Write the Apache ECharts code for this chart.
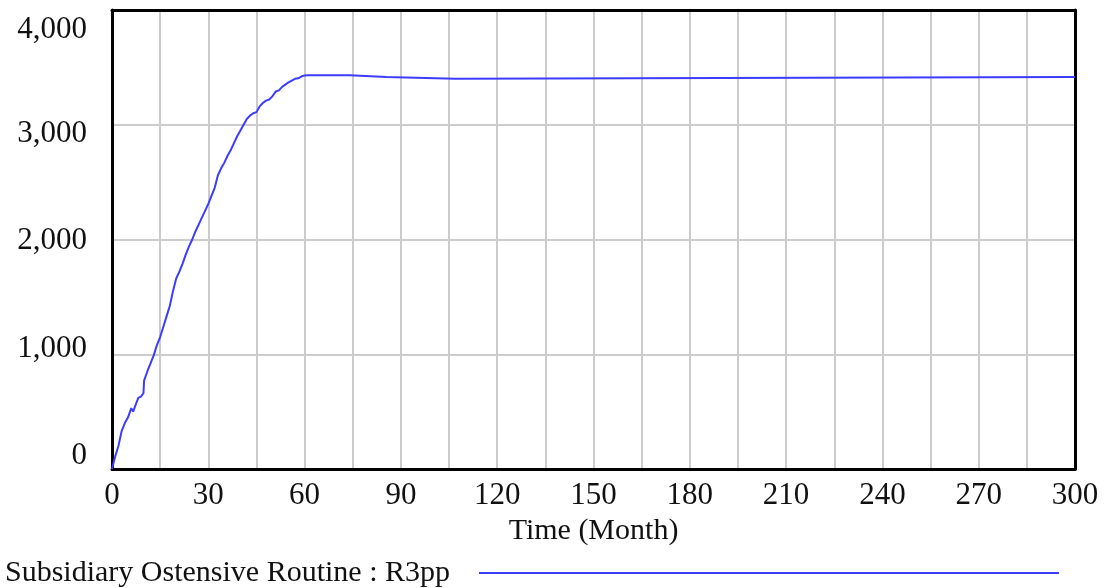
<!DOCTYPE html>
<html>
<head>
<meta charset="utf-8">
<script src="https://cdn.jsdelivr.net/npm/echarts@6/dist/echarts.min.js"></script>
<style>
  html, body { margin: 0; padding: 0; background: #fff; }
  #main { width: 1106px; height: 588px; }
</style>
</head>
<body>
<div id="main"></div>
<script>
// months and values
var months = [0, 1, 2, 3, 4, 4.5, 5, 6, 6.6, 7.5, 8.2, 9, 9.8, 10, 11, 12, 13, 14, 15, 16, 17, 18, 19, 20,
  21, 22, 23, 24, 25, 26, 27, 28, 29, 30, 31, 32, 33, 34, 35, 36, 37, 38, 39, 40,
  41, 42, 43, 44, 45, 46, 47, 48, 49, 50, 51, 52, 53, 54, 55, 56, 57, 58, 59, 60,
  61, 74, 74.2, 85.5, 85.7, 107, 107.3, 300];
var r3pp = [0, 110, 200, 330, 400, 385, 450, 530, 500, 570, 620, 630, 660, 770, 850, 920, 990, 1080, 1150, 1240, 1330, 1420, 1550, 1660,
  1720, 1790, 1870, 1940, 2000, 2070, 2130, 2190, 2250, 2310, 2380, 2450, 2560, 2620, 2670, 2730, 2780, 2840, 2900, 2950,
  3000, 3050, 3080, 3100, 3110, 3160, 3190, 3210, 3220, 3250, 3290, 3300, 3330, 3350, 3370, 3385, 3400, 3405, 3420, 3430,
  3432, 3432, 3417, 3417, 3400, 3400, 3417, 3417];

var seriesData = [];
for (var i = 0; i < months.length; i++) {
  seriesData.push([months[i], r3pp[i]]);
}

var font = 'Liberation Serif';
var frame = { show: true, onZero: false, lineStyle: { color: '#000', width: 3 } };
// vensim spreads the y labels evenly, so nudge them off the grid lines
var yShift = { 0: 'p0', 1000: 'p1', 2000: 'p2', 3000: 'p3', 4000: 'p4' };

var chart = echarts.init(document.getElementById('main'));
chart.setOption({
  animation: false,
  grid: { left: 112, right: 31, top: 10, bottom: 119 },
  legend: {
    left: 0, top: 553,
    align: 'right',
    icon: 'rect',
    itemWidth: 580, itemHeight: 2,
    textStyle: { fontFamily: font, fontSize: 30, color: '#111', padding: [0, 24, 0, 0] },
    data: ['Subsidiary Ostensive Routine : R3pp']
  },
  xAxis: [{
    type: 'value',
    min: 0, max: 300, interval: 15,
    name: 'Time (Month)',
    nameLocation: 'middle',
    nameGap: 40,
    nameTextStyle: { fontFamily: font, fontSize: 30, color: '#111' },
    axisLine: frame,
    axisTick: { show: false },
    axisLabel: {
      margin: 11,
      fontFamily: font, fontSize: 31, color: '#111',
      formatter: function (v) { return v % 30 === 0 ? String(v) : ''; }
    },
    splitLine: { show: true, lineStyle: { color: '#cccccc', width: 2 } }
  }, {
    type: 'value', position: 'top',
    min: 0, max: 300,
    axisLine: frame, axisTick: { show: false }, axisLabel: { show: false }, splitLine: { show: false }
  }],
  yAxis: [{
    type: 'value',
    min: 0, max: 4000, interval: 1000,
    axisLine: frame,
    axisTick: { show: false },
    axisLabel: {
      margin: 25,
      fontFamily: font, fontSize: 31, color: '#111',
      formatter: function (v) { return '{' + yShift[v] + '|' + v.toLocaleString('en-US') + '}'; },
      rich: {
        p0: { fontFamily: font, fontSize: 31, color: '#111', padding: [0, 0, 26, 0] },
        p1: { fontFamily: font, fontSize: 31, color: '#111', padding: [0, 0, 10, 0] },
        p2: { fontFamily: font, fontSize: 31, color: '#111', padding: [2, 0, 0, 0] },
        p3: { fontFamily: font, fontSize: 31, color: '#111', padding: [18, 0, 0, 0] },
        p4: { fontFamily: font, fontSize: 31, color: '#111', padding: [40, 0, 0, 0] }
      }
    },
    splitLine: { show: true, lineStyle: { color: '#cccccc', width: 2 } }
  }, {
    type: 'value', position: 'right',
    min: 0, max: 4000,
    axisLine: frame, axisTick: { show: false }, axisLabel: { show: false }, splitLine: { show: false }
  }],
  series: [{
    name: 'Subsidiary Ostensive Routine : R3pp',
    type: 'line',
    showSymbol: false,
    data: seriesData,
    itemStyle: { color: '#3c3cff' },
    lineStyle: { color: '#3c3cff', width: 2 }
  }]
});
</script>
</body>
</html>
